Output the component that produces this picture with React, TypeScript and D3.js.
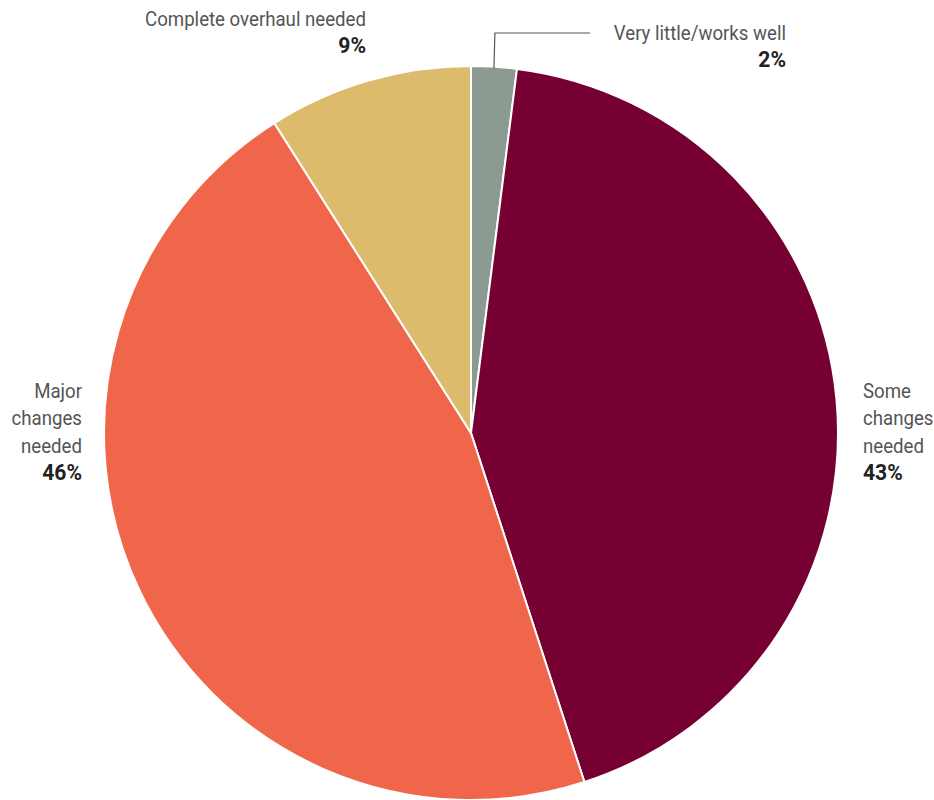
import React from "react";
import * as d3 from "d3";

const categories = ["Very little/works well", "Some changes needed", "Major changes needed", "Complete overhaul needed"];
const values = [2, 43, 46, 9];
const colors = ["#8c9b91", "#760032", "#f0664a", "#dcbb6d"];

const W = 934, H = 800;
const cx = 471, cy = 433, R = 367;
const FONT = "Roboto, 'Liberation Sans', sans-serif";
const SX = 0.91;

function Label({ x, y, lines, pct, anchor }: { x: number; y: number; lines: string[]; pct: string; anchor: "start" | "end" }) {
  const lh = 27.5;
  return (
    <g transform={`translate(${x},${y})`}>
      {lines.map((l, i) => (
        <text key={i} x={0} y={i * lh} transform={`scale(${SX},1)`} textAnchor={anchor} fontFamily={FONT} fontSize={20.5} fill="#555">{l}</text>
      ))}
      <text x={0} y={lines.length * lh} transform={`scale(0.98,1)`} textAnchor={anchor} fontFamily={FONT} fontSize={21.5} fontWeight="bold" fill="#222">{pct}</text>
    </g>
  );
}

export default function App() {
  const pie = d3.pie<number>().sort(null).value((d) => d)(values);
  const arc = d3.arc<d3.PieArcDatum<number>>().innerRadius(0).outerRadius(R);
  const a0 = (pie[0].startAngle + pie[0].endAngle) / 2;
  const lx = cx + (R - 2) * Math.sin(a0);
  const ly = cy - (R - 2) * Math.cos(a0);
  return (
    <svg width={W} height={H} style={{ position: "absolute", left: 0, top: 0, background: "#fff" }}>
      <g transform={`translate(${cx},${cy})`}>
        {pie.map((p, i) => (
          <path key={i} d={arc(p) || ""} fill={colors[i]} stroke="#fff" strokeWidth={2} />
        ))}
      </g>
      <polyline points={`${lx},${ly} ${lx + 1},33 590,33`} fill="none" stroke="#555" strokeWidth={1.2} />
      <Label x={786} y={40} lines={[categories[0]]} pct={`${values[0]}%`} anchor="end" />
      <Label x={366} y={26} lines={[categories[3]]} pct={`${values[3]}%`} anchor="end" />
      <Label x={82} y={398} lines={["Major", "changes", "needed"]} pct={`${values[2]}%`} anchor="end" />
      <Label x={863} y={398} lines={["Some", "changes", "needed"]} pct={`${values[1]}%`} anchor="start" />
    </svg>
  );
}
